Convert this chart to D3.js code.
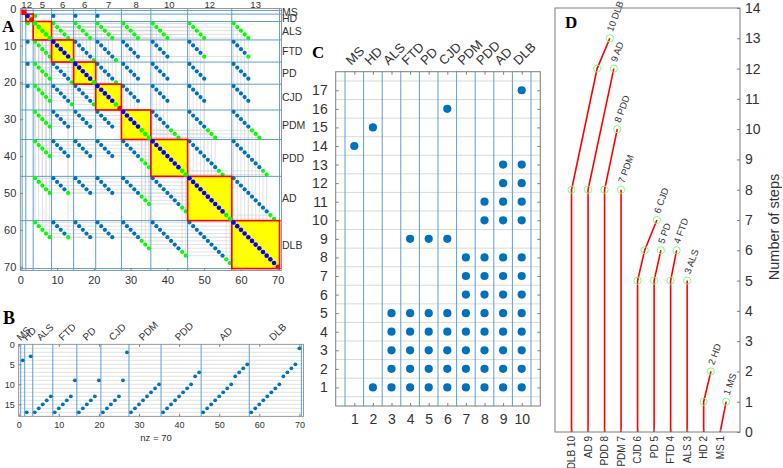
<!DOCTYPE html>
<html>
<head>
<meta charset="utf-8">
<script src="https://cdn.jsdelivr.net/npm/d3@7"></script>
<style>
  body { margin: 0; background: #fff; }
  svg { display: block; }
  text { font-family: "Liberation Sans", Arial, sans-serif; fill: #333; }
  .panel { font-family: "Liberation Serif", "Times New Roman", serif; font-weight: bold; fill: #000; }
</style>
</head>
<body>
<svg width="783" height="468"></svg>
<script>
// ---- data ----
const diseases = ['MS', 'HD', 'ALS', 'FTD', 'PD', 'CJD', 'PDM', 'PDD', 'AD', 'DLB'];
const stepsMS  = [14];
const stepsHD  = [1, 15];
const stepsALS = [1, 2, 3, 4, 5];
const stepsFTD = [1, 2, 3, 4, 5, 9];
const stepsPD  = [1, 2, 3, 4, 5, 9];
const stepsCJD = [1, 2, 3, 4, 5, 9, 16];
const stepsPDM = [1, 2, 3, 4, 5, 6, 7, 8];
const stepsPDD = [1, 2, 3, 4, 5, 6, 7, 8, 10, 11];
const stepsAD  = [1, 2, 3, 4, 5, 6, 7, 8, 10, 11, 12, 13];
const stepsDLB = [1, 2, 3, 4, 5, 6, 7, 8, 10, 11, 12, 13, 17];
const diseaseSteps = [stepsMS, stepsHD, stepsALS, stepsFTD, stepsPD, stepsCJD, stepsPDM, stepsPDD, stepsAD, stepsDLB];
const blockSizeLabels = ['1', '2', '5', '6', '6', '7', '8', '10', '12', '13'];

// groups whose shared steps show up in panel A
const linkedPairs = [
  ['HD', 'ALS'], ['HD', 'FTD'], ['HD', 'PD'], ['HD', 'CJD'],
  ['ALS', 'FTD'], ['ALS', 'PD'], ['ALS', 'CJD'], ['ALS', 'PDM'], ['ALS', 'PDD'], ['ALS', 'AD'], ['ALS', 'DLB'],
  ['FTD', 'PD'], ['FTD', 'CJD'], ['FTD', 'PDM'], ['FTD', 'PDD'], ['FTD', 'AD'], ['FTD', 'DLB'],
  ['PD', 'CJD'], ['PD', 'PDM'], ['PD', 'PDD'], ['PD', 'AD'], ['PD', 'DLB'],
  ['CJD', 'PDM'], ['CJD', 'PDD'], ['CJD', 'AD'], ['CJD', 'DLB'],
  ['PDM', 'PDD'], ['PDM', 'AD'], ['PDM', 'DLB'],
  ['PDD', 'AD'], ['PDD', 'DLB'],
  ['AD', 'DLB']
];
// [row, col] cells drawn green (upper triangle, mirrored)
const greenCells = [
  [2, 4], [4, 9], [5, 10], [6, 11], [7, 12], [8, 13], [4, 15], [5, 16], [6, 17], [7, 18], [8, 19],
  [4, 21], [5, 22], [6, 23], [7, 24], [8, 25], [4, 28], [5, 29], [6, 30], [7, 31], [8, 32],
  [4, 36], [5, 37], [6, 38], [7, 39], [8, 40], [4, 46], [5, 47], [6, 48], [7, 49], [8, 50],
  [4, 58], [5, 59], [6, 60], [7, 61], [8, 62],
  [14, 20], [14, 26], [20, 26], [13, 50], [13, 62],
  [33, 41], [34, 42], [35, 43], [33, 51], [34, 52], [35, 53], [33, 63], [34, 64], [35, 65],
  [44, 54], [45, 55], [44, 66], [45, 67], [56, 68], [57, 69]
];
// diagonal entries drawn green / red instead of blue
const greenDiagonal = [4, 5, 6, 7, 8, 14, 20, 26, 33, 34, 35, 44, 45, 56, 57];
const redDiagonal = [1, 3, 27, 70];

// dendrogram (panel D), leaves left to right
const leafLabels = ['DLB 10', 'AD 9', 'PDD 8', 'PDM 7', 'CJD 6', 'PD 5', 'FTD 4', 'ALS 3', 'HD 2', 'MS 1'];
const tipLabels  = ['10 DLB', '9 AD', '8 PDD', '7 PDM', '6 CJD', '5 PD', '4 FTD', '3 ALS', '2 HD', '1 MS'];
const branchHeights = [[0, 8, 12, 13], [0, 8, 12], [0, 8, 10], [0, 8], [0, 5, 6, 7], [0, 5, 6], [0, 5, 6], [0, 5], [0, 1, 2], [0, 1]];
const branchShift   = [[0, 0, 1.55, 2.32], [0, 0, 1.56], [0, 0, 0.77], [0, 0], [0, 0, 0.43, 1.17], [0, 0, 0.41], [0, 0, 0.36], [0, 0], [0, 0, 0.44], [0, 0.36]];

// ---- setup ----
const svg = d3.select('svg');
const dotBlue = '#0072bd', lineBlue = '#5b9fd8', gridGray = '#d9d9d9', axisGray = '#7f7f7f';

// items: one per (disease, step)
const items = [];
diseaseSteps.forEach((s, g) => s.forEach(step => items.push({g, step, idx: items.length + 1})));
const groupStart = [], groupEnd = [];
let acc = 0;
diseaseSteps.forEach(s => { groupStart.push(acc + 1); acc += s.length; groupEnd.push(acc); });
const bounds = [0.5].concat(groupEnd.map(e => e + 0.5));
const centers = groupStart.map((s, i) => (s + groupEnd[i]) / 2);

const tickStyle = (g, size) => {
  g.select('.domain').remove();
  g.selectAll('line').attr('stroke', axisGray);
  g.selectAll('text').attr('fill', '#333').style('font-size', size + 'px')
    .style('font-family', '"Liberation Sans", Arial, sans-serif');
};

// ---- panel A ----
const xA = d3.scaleLinear().domain([0, 71]).range([20.3, 281.4]);
const yA = d3.scaleLinear().domain([0, 71]).range([8.6, 270.4]);
const gA = svg.append('g');

// faint guide lines from each green pair back to the diagonal
const guides = [];
greenCells.forEach(([r, c]) => {
  guides.push([r, r, r, c], [c, r, c, c], [r, r, c, r], [r, c, c, c]);
});
gA.selectAll('.guide').data(guides).enter().append('line')
  .attr('x1', d => xA(d[1])).attr('y1', d => yA(d[0]))
  .attr('x2', d => xA(d[3])).attr('y2', d => yA(d[2]))
  .attr('stroke', '#d6d6d6').attr('stroke-width', 0.7);

gA.selectAll('.blk').data(d3.range(10)).enter().append('rect')
  .attr('x', i => xA(bounds[i])).attr('y', i => yA(bounds[i]))
  .attr('width', i => xA(bounds[i + 1]) - xA(bounds[i]))
  .attr('height', i => yA(bounds[i + 1]) - yA(bounds[i]))
  .attr('fill', '#ffff00').attr('stroke', 'none');

gA.selectAll('.vb').data(bounds).enter().append('line')
  .attr('x1', d => xA(d)).attr('x2', d => xA(d)).attr('y1', yA(0)).attr('y2', yA(71))
  .attr('stroke', lineBlue).attr('stroke-width', 1);
gA.selectAll('.hb').data(bounds).enter().append('line')
  .attr('y1', d => yA(d)).attr('y2', d => yA(d)).attr('x1', xA(0)).attr('x2', xA(71))
  .attr('stroke', lineBlue).attr('stroke-width', 1);

const linked = (a, b) => linkedPairs.some(p => (p[0] === a && p[1] === b) || (p[0] === b && p[1] === a));
const isGreen = (r, c) => greenCells.some(p => (p[0] === r && p[1] === c) || (p[0] === c && p[1] === r));
const cells = [];
items.forEach(a => items.forEach(b => {
  if (a.g !== b.g && a.step === b.step && linked(diseases[a.g], diseases[b.g])) {
    cells.push({r: a.idx, c: b.idx, green: isGreen(a.idx, b.idx)});
  }
}));
gA.selectAll('.cell').data(cells).enter().append('circle')
  .attr('cx', d => xA(d.c)).attr('cy', d => yA(d.r)).attr('r', 2.1)
  .attr('fill', d => d.green ? '#00ff00' : dotBlue);

gA.selectAll('.blo').data(d3.range(10)).enter().append('rect')
  .attr('x', i => xA(bounds[i])).attr('y', i => yA(bounds[i]))
  .attr('width', i => xA(bounds[i + 1]) - xA(bounds[i]))
  .attr('height', i => yA(bounds[i + 1]) - yA(bounds[i]))
  .attr('fill', 'none').attr('stroke', '#ff0000').attr('stroke-width', 1.6);
gA.selectAll('.diag').data(items).enter().append('circle')
  .attr('cx', d => xA(d.idx)).attr('cy', d => yA(d.idx)).attr('r', 2.3)
  .attr('fill', d => redDiagonal.includes(d.idx) ? '#ff0000'
    : greenDiagonal.includes(d.idx) ? '#00ff00' : '#0000ff');

gA.append('rect').attr('x', xA(0)).attr('y', yA(0))
  .attr('width', xA(71) - xA(0)).attr('height', yA(71) - yA(0))
  .attr('fill', 'none').attr('stroke', axisGray).attr('stroke-width', 0.8);

const ticks70 = [0, 10, 20, 30, 40, 50, 60, 70];
gA.append('g').attr('transform', `translate(${xA(0)},0)`)
  .call(d3.axisLeft(yA).tickValues(ticks70).tickSizeInner(-2.5).tickSizeOuter(0).tickPadding(4))
  .call(tickStyle, 11);
gA.append('g').attr('transform', `translate(0,${yA(71)})`)
  .call(d3.axisBottom(xA).tickValues(ticks70).tickSizeInner(-2.5).tickSizeOuter(0).tickPadding(6))
  .call(tickStyle, 11);
gA.selectAll('.toplab').data(blockSizeLabels).enter().append('text')
  .attr('x', (d, i) => xA(centers[i])).attr('y', 8)
  .attr('text-anchor', 'middle').style('font-size', '9.5px').text(d => d);
gA.selectAll('.rightlab').data(diseases).enter().append('text')
  .attr('x', 282).attr('y', (d, i) => yA(centers[i]) + 4)
  .style('font-size', '10.5px').text(d => d);
svg.append('text').attr('class', 'panel').attr('x', 2).attr('y', 32).style('font-size', '17px').text('A');

// ---- panel B ----
const xB = d3.scaleLinear().domain([0, 71]).range([18.7, 303.4]);
const yB = d3.scaleLinear().domain([0, 18]).range([344.3, 416.3]);
const gB = svg.append('g');
gB.selectAll('.hg').data(d3.range(1, 18)).enter().append('line')
  .attr('x1', xB(0)).attr('x2', xB(71)).attr('y1', d => yB(d)).attr('y2', d => yB(d))
  .attr('stroke', gridGray).attr('stroke-width', 0.8);
gB.selectAll('.vb').data(bounds).enter().append('line')
  .attr('x1', d => xB(d)).attr('x2', d => xB(d)).attr('y1', yB(0)).attr('y2', yB(18))
  .attr('stroke', lineBlue).attr('stroke-width', 1);
gB.selectAll('.dot').data(items).enter().append('circle')
  .attr('cx', d => xB(d.idx)).attr('cy', d => yB(18 - d.step)).attr('r', 1.9).attr('fill', dotBlue);
gB.append('rect').attr('x', xB(0)).attr('y', yB(0))
  .attr('width', xB(71) - xB(0)).attr('height', yB(18) - yB(0))
  .attr('fill', 'none').attr('stroke', axisGray).attr('stroke-width', 0.8);
gB.append('g').attr('transform', `translate(${xB(0)},0)`)
  .call(d3.axisLeft(yB).tickValues([0, 5, 10, 15]).tickSizeInner(-2.5).tickSizeOuter(0).tickPadding(4))
  .call(tickStyle, 9);
gB.append('g').attr('transform', `translate(0,${yB(18)})`)
  .call(d3.axisBottom(xB).tickValues(ticks70).tickSizeInner(-2.5).tickSizeOuter(0).tickPadding(5))
  .call(tickStyle, 9);
gB.append('g').attr('transform', `translate(0,${yB(0)})`)
  .call(d3.axisTop(xB).tickValues(ticks70).tickSize(-2.5).tickFormat(''))
  .call(tickStyle, 9);
gB.selectAll('.toplab').data(diseases).enter().append('text')
  .attr('transform', (d, i) => `translate(${xB(centers[i]) - 2},${yB(0) - 3}) rotate(-45)`)
  .style('font-size', '10px').text(d => d);
gB.append('text').attr('x', 156).attr('y', 441).attr('text-anchor', 'middle')
  .style('font-size', '9.5px').text('nz = 70');
svg.append('text').attr('class', 'panel').attr('x', 3).attr('y', 324).style('font-size', '18px').text('B');

// ---- panel C ----
const xC = d3.scaleLinear().domain([0, 11]).range([335.7, 540.3]);
const yC = d3.scaleLinear().domain([0, 18]).range([406, 71.7]);
const gC = svg.append('g');
gC.selectAll('.hg').data(d3.range(0.5, 18, 1)).enter().append('line')
  .attr('x1', xC(0)).attr('x2', xC(11)).attr('y1', d => yC(d)).attr('y2', d => yC(d))
  .attr('stroke', gridGray).attr('stroke-width', 1);
gC.selectAll('.vg').data(d3.range(0.5, 11, 1)).enter().append('line')
  .attr('x1', d => xC(d)).attr('x2', d => xC(d)).attr('y1', yC(0)).attr('y2', yC(18))
  .attr('stroke', lineBlue).attr('stroke-width', 1);
const cPoints = [];
diseaseSteps.forEach((s, g) => s.forEach(step => cPoints.push({x: g + 1, y: step})));
gC.selectAll('.dot').data(cPoints).enter().append('circle')
  .attr('cx', d => xC(d.x)).attr('cy', d => yC(d.y)).attr('r', 4.1).attr('fill', dotBlue);
gC.append('rect').attr('x', xC(0)).attr('y', yC(18))
  .attr('width', xC(11) - xC(0)).attr('height', yC(0) - yC(18))
  .attr('fill', 'none').attr('stroke', axisGray).attr('stroke-width', 1);
const cols = d3.range(1, 11), rows = d3.range(1, 18);
gC.append('g').attr('transform', `translate(${xC(0)},0)`)
  .call(d3.axisLeft(yC).tickValues(rows).tickSizeInner(-3).tickSizeOuter(0).tickPadding(8))
  .call(tickStyle, 14);
gC.append('g').attr('transform', `translate(${xC(11)},0)`)
  .call(d3.axisRight(yC).tickValues(rows).tickSize(-3).tickFormat(''))
  .call(tickStyle, 14);
gC.append('g').attr('transform', `translate(0,${yC(0)})`)
  .call(d3.axisBottom(xC).tickValues(cols).tickSizeInner(-3).tickSizeOuter(0).tickPadding(8))
  .call(tickStyle, 14);
gC.append('g').attr('transform', `translate(0,${yC(18)})`)
  .call(d3.axisTop(xC).tickValues(cols).tickSize(-3).tickFormat(''))
  .call(tickStyle, 14);
gC.selectAll('.toplab').data(diseases).enter().append('text')
  .attr('transform', (d, i) => `translate(${xC(i + 1) - 3},${yC(18) - 6}) rotate(-45)`)
  .style('font-size', '13px').text(d => d);
svg.append('text').attr('class', 'panel').attr('x', 312).attr('y', 58).style('font-size', '17px').text('C');

// ---- panel D ----
const xD = d3.scaleLinear().domain([0, 11.2]).range([555, 740]);
const yD = d3.scaleLinear().domain([0, 14]).range([432, 8]);
const gD = svg.append('g');
gD.append('rect').attr('x', xD(0)).attr('y', yD(14))
  .attr('width', xD(11.2) - xD(0)).attr('height', yD(0) - yD(14))
  .attr('fill', 'none').attr('stroke', axisGray).attr('stroke-width', 1);
const line = d3.line().x(d => xD(d[0])).y(d => yD(d[1]));
leafLabels.forEach((lab, i) => {
  const pts = branchHeights[i].map((h, k) => [i + 1 + branchShift[i][k], h]);
  gD.append('path').attr('d', line(pts)).attr('fill', 'none')
    .attr('stroke', '#ff0000').attr('stroke-width', 1.6);
  gD.selectAll(null).data(pts.slice(1)).enter().append('circle')
    .attr('cx', d => xD(d[0])).attr('cy', d => yD(d[1])).attr('r', 3.6)
    .attr('fill', 'none').attr('stroke', '#7dff7d').attr('stroke-width', 1);
  const top = pts[pts.length - 1];
  gD.append('text')
    .attr('transform', `translate(${xD(top[0]) + 3},${yD(top[1]) - 6}) rotate(-70)`)
    .style('font-size', '9.5px').text(tipLabels[i]);
  gD.append('text')
    .attr('transform', `translate(${xD(i + 1) + 3.5},${yD(0) + 4}) rotate(-90)`)
    .attr('text-anchor', 'end').style('font-size', '10px').text(lab);
});
gD.append('g').attr('transform', `translate(${xD(11.2)},0)`)
  .call(d3.axisRight(yD).tickValues(d3.range(0, 15)).tickSizeInner(-3).tickSizeOuter(0).tickPadding(5))
  .call(tickStyle, 14);
gD.append('g').attr('transform', `translate(0,${yD(0)})`)
  .call(d3.axisBottom(xD).tickValues(d3.range(1, 11)).tickSize(-3).tickFormat(''))
  .call(tickStyle, 10);
gD.append('text').attr('transform', `translate(779,227) rotate(-90)`)
  .attr('text-anchor', 'middle').style('font-size', '14.5px').text('Number of steps');
svg.append('text').attr('class', 'panel').attr('x', 565).attr('y', 28).style('font-size', '17px').text('D');
</script>
</body>
</html>
